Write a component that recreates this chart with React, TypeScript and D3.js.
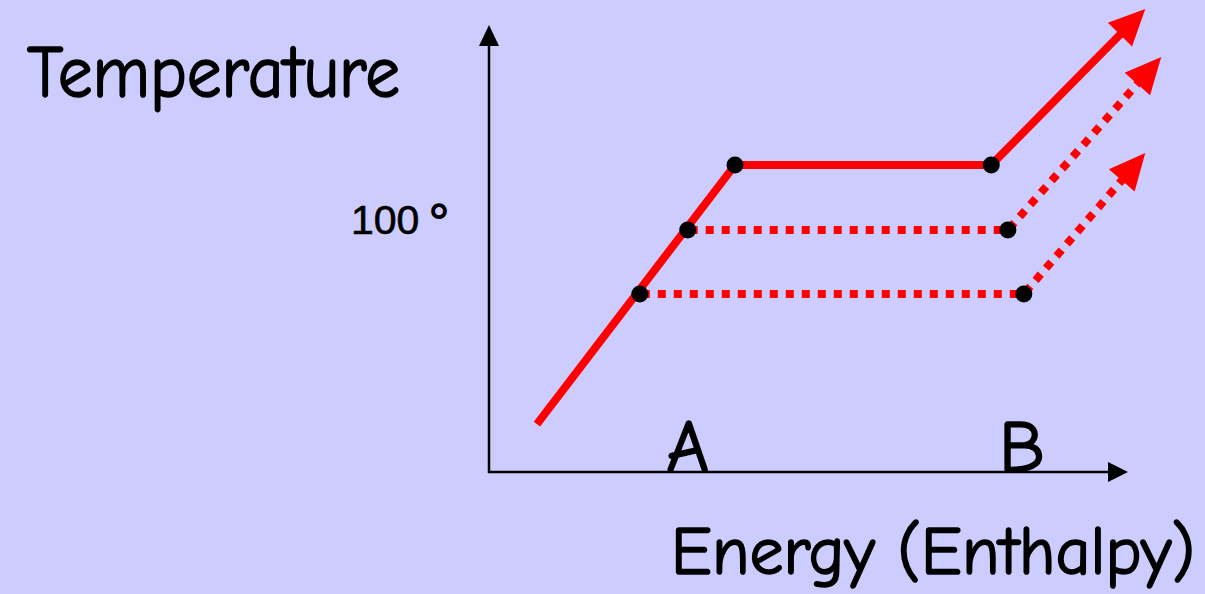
import React from "react";
import * as d3 from "d3";

// ---- data (energy units / temperature units) ----
const solidEnergy = [7.5, 38.5, 78.6, 102.7];
const solidTemp = [19.8, 126.9, 126.9, 191.3];

const dottedUpperEnergy = [31.1, 81.2, 105.2];
const dottedUpperTemp = [100, 100, 171.5];

const dottedLowerEnergy = [23.6, 83.7, 102.7];
const dottedLowerTemp = [73.6, 73.6, 131.8];

const pointEnergy = [38.5, 31.1, 23.6, 78.6, 81.2, 83.7];
const pointTemp = [126.9, 100, 73.6, 126.9, 100, 73.6];

const markerLabels = ["A", "B"];
const markerEnergy = [31.1, 83.4];

const tickNumber = "100";
const tickUnit = "°";
const tickTemp = 100;

const xAxisMax = 100;
const yAxisMax = 184.7;

const W = 1205;
const H = 594;
const BG = "#CCCCFF";
const RED = "#FF0000";
const FONT = "'Comic Sans MS', 'Comic Neue', 'Open Sans', 'DejaVu Sans', sans-serif";

const x = d3.scaleLinear().domain([0, 100]).range([489, 1128]);
const y = d3.scaleLinear().domain([0, 100]).range([472, 230]);

type P = [number, number];

function head(from: P, tip: P, len: number, hw: number) {
  const dx = tip[0] - from[0];
  const dy = tip[1] - from[1];
  const d = Math.hypot(dx, dy);
  const ux = dx / d, uy = dy / d;
  const bx = tip[0] - ux * len, by = tip[1] - uy * len;
  const nx = -uy, ny = ux;
  const poly = `${tip[0]},${tip[1]} ${bx + nx * hw},${by + ny * hw} ${bx - nx * hw},${by - ny * hw}`;
  const base: P = [bx + ux * 2, by + uy * 2];
  return { poly, base };
}

function seriesPath(es: number[], ts: number[], dashed: boolean, key: string) {
  const pts: P[] = es.map((e, i) => [x(e), y(ts[i])]);
  const n = pts.length;
  const h = head(pts[n - 2], pts[n - 1], 36, 17);
  const linePts = [...pts.slice(0, n - 1), h.base];
  const line = d3.line<P>().x((p) => p[0]).y((p) => p[1]);
  return (
    <g key={key}>
      <path
        d={line(linePts) || ""}
        fill="none"
        stroke={RED}
        strokeWidth={8}
        strokeDasharray={dashed ? "8 8" : undefined}
        strokeDashoffset={dashed ? -2 : 0}
        strokeLinejoin="miter"
      />
      <polygon points={h.poly} fill={RED} />
    </g>
  );
}

const textStyle = { stroke: "#000", strokeWidth: 1.6, paintOrder: "stroke" } as const;

export default function App() {
  const x0 = x(0), y0 = y(0);
  const yTop = y(yAxisMax), xEnd = x(xAxisMax);
  const yh = head([x0, y0], [x0, yTop], 21, 10);
  const xh = head([x0, y0], [xEnd, y0], 20, 10);
  return (
    <svg
      width={W}
      height={H}
      style={{ position: "absolute", left: 0, top: 0, background: BG }}
    >
      <rect x={0} y={0} width={W} height={H} fill={BG} />
      {/* axes */}
      <line x1={x0} y1={y0 + 1} x2={x0} y2={yh.base[1]} stroke="#000" strokeWidth={2.5} />
      <polygon points={yh.poly} fill="#000" />
      <line x1={x0 - 1} y1={y0} x2={xh.base[0]} y2={y0} stroke="#000" strokeWidth={2.5} />
      <polygon points={xh.poly} fill="#000" />

      {/* series */}
      {seriesPath(dottedLowerEnergy, dottedLowerTemp, true, "lower")}
      {seriesPath(dottedUpperEnergy, dottedUpperTemp, true, "upper")}
      {seriesPath(solidEnergy, solidTemp, false, "solid")}

      {/* points */}
      {pointEnergy.map((e, i) => (
        <circle key={i} cx={x(e)} cy={y(pointTemp[i])} r={8.5} fill="#000" />
      ))}

      {/* texts */}
      <text x={27} y={97} fontFamily={FONT} fontSize={74} fill="#000" style={textStyle} textLength={373} lengthAdjust="spacingAndGlyphs">
        Temperature
      </text>
      <text x={671} y={574} fontFamily={FONT} fontSize={68} fill="#000" style={textStyle} textLength={524} lengthAdjust="spacingAndGlyphs">
        Energy (Enthalpy)
      </text>
      <text x={351} y={y(tickTemp) + 4} fontFamily="'Liberation Sans', Arial, sans-serif" fontSize={41} fill="#000" style={{ stroke: "#000", strokeWidth: 0.6 }}>
        {tickNumber}
      </text>
      <text x={427} y={y(tickTemp) + 9} fontFamily="'DejaVu Sans', sans-serif" fontSize={48} fontWeight="bold" fill="#000">
        {tickUnit}
      </text>
      {markerLabels.map((l, i) => (
        <text key={l} x={x(markerEnergy[i])} y={472} textAnchor="middle" fontFamily={FONT} fontSize={74} fill="#000" style={textStyle}>
          {l}
        </text>
      ))}
    </svg>
  );
}
